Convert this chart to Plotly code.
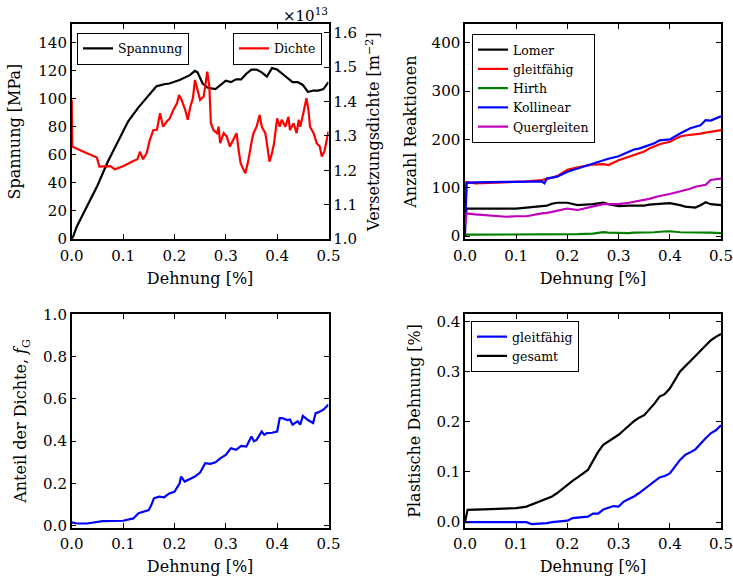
import plotly.graph_objects as go

# ---------------- data ----------------
# Top-left: stress (MPa) and dislocation density (x1e13 m^-2) vs strain (%)
stress_x = [0.0, 0.003, 0.01, 0.03, 0.05, 0.07, 0.09, 0.11, 0.13, 0.15, 0.165, 0.18, 0.19, 0.21,
            0.22, 0.23, 0.24, 0.245, 0.255, 0.265, 0.28, 0.29, 0.30, 0.31, 0.32, 0.33, 0.34, 0.35,
            0.36, 0.37, 0.38, 0.39, 0.40, 0.41, 0.42, 0.43, 0.44, 0.45, 0.46, 0.47, 0.48, 0.49,
            0.50]
stress_y = [0, 2, 9, 23, 38, 55, 70, 84, 94, 103, 109, 110.5, 111, 113.5,
            115, 117, 120, 119, 111, 108, 107, 110, 113, 112, 114, 114, 118, 121,
            121, 119, 116, 122, 121, 118, 115, 112, 112, 110, 105, 106, 106, 107,
            112]

dens_x = [0.0, 0.001, 0.023, 0.036, 0.049, 0.054, 0.075, 0.084, 0.100, 0.117, 0.128,
          0.133, 0.139, 0.146, 0.152, 0.159, 0.166, 0.172, 0.178, 0.185, 0.191, 0.198,
          0.205, 0.209, 0.214, 0.221, 0.226, 0.231, 0.236, 0.240, 0.245, 0.250, 0.257, 0.260,
          0.264, 0.268, 0.271, 0.276, 0.283, 0.286, 0.289, 0.296, 0.302, 0.308, 0.315, 0.321,
          0.325, 0.329, 0.338, 0.344, 0.351, 0.354, 0.360, 0.366, 0.370, 0.377, 0.380, 0.385,
          0.390, 0.394, 0.400, 0.405, 0.409, 0.416, 0.422, 0.425, 0.432, 0.438, 0.442, 0.445,
          0.451, 0.457, 0.461, 0.464, 0.471, 0.477, 0.483, 0.487, 0.492, 0.496, 0.500]
dens_y = [1.405, 1.269, 1.254, 1.245, 1.237, 1.211, 1.212, 1.203, 1.212, 1.225, 1.232,
          1.254, 1.232, 1.250, 1.288, 1.317, 1.318, 1.366, 1.327, 1.342, 1.351, 1.376,
          1.395, 1.419, 1.405, 1.376, 1.347, 1.385, 1.410, 1.463, 1.434, 1.405, 1.415, 1.454,
          1.487, 1.444, 1.337, 1.317, 1.308, 1.327, 1.279, 1.308, 1.298, 1.269, 1.288, 1.308,
          1.259, 1.220, 1.191, 1.230, 1.288, 1.308, 1.327, 1.361, 1.327, 1.308, 1.279, 1.225,
          1.250, 1.279, 1.351, 1.327, 1.347, 1.327, 1.356, 1.317, 1.337, 1.308, 1.347, 1.327,
          1.366, 1.410, 1.376, 1.327, 1.308, 1.279, 1.269, 1.240, 1.255, 1.288, 1.313]

# Top-right: number of reactions
react_x = [0.0, 0.003, 0.02, 0.05, 0.08, 0.10, 0.12, 0.15, 0.155, 0.16, 0.17, 0.18, 0.20, 0.22,
           0.25, 0.27, 0.28, 0.30, 0.32, 0.33, 0.34, 0.35, 0.36, 0.37, 0.38, 0.40, 0.42, 0.43,
           0.44, 0.45, 0.46, 0.47, 0.48, 0.50]
lomer = [30, 57, 57, 57, 57, 57, 59, 61, 62, 63, 67, 69, 69, 64, 66, 69, 66, 62, 63, 63, 64, 63, 65,
         66, 67, 68, 64, 61, 60, 59, 64, 70, 66, 64]
gleit = [20, 112, 109, 110, 111, 112, 113, 116, 117, 118, 121, 124, 137, 142, 148, 149, 147, 157,
         164, 167, 170, 175, 181, 185, 190, 195, 206, 208, 209, 211, 212, 214, 216, 219]
hirth = [1, 3, 3, 3, 3, 3, 3, 3, 3, 3, 3, 3, 4, 4, 5, 8, 7, 6, 6, 7, 7, 7, 8, 8, 9, 10, 8, 8, 8, 8,
         8, 8, 7, 6]
kolli = [0, 110, 111, 112, 112, 112, 113, 113, 109, 119, 121, 123, 133, 140, 150, 157, 160, 165,
         174, 179, 181, 185, 188, 192, 198, 200, 212, 218, 223, 226, 229, 240, 239, 248]
quer = [23, 47, 45, 43, 40, 41, 41, 47, 47, 48, 50, 52, 57, 54, 62, 66, 66, 66, 69, 71, 72, 74, 77,
        80, 83, 87, 92, 95, 98, 102, 104, 106, 116, 119]

# Bottom-left: fraction of density f_G
frac_x = [0.0, 0.01, 0.03, 0.05, 0.06, 0.10, 0.105, 0.12, 0.13, 0.15, 0.155, 0.16, 0.17, 0.18,
          0.19, 0.20, 0.21, 0.213, 0.22, 0.23, 0.24, 0.25, 0.26, 0.27, 0.28, 0.29, 0.30, 0.31,
          0.32, 0.33, 0.34, 0.35, 0.355, 0.36, 0.37, 0.375, 0.38, 0.39, 0.40, 0.405, 0.41, 0.42,
          0.425, 0.43, 0.44, 0.445, 0.45, 0.46, 0.47, 0.475, 0.48, 0.49, 0.50]
frac_y = [0.016, 0.011, 0.011, 0.019, 0.022, 0.024, 0.027, 0.035, 0.060, 0.074, 0.098, 0.130,
          0.138, 0.135, 0.153, 0.161, 0.200, 0.233, 0.209, 0.220, 0.233, 0.252, 0.296, 0.293,
          0.300, 0.320, 0.335, 0.367, 0.359, 0.378, 0.375, 0.422, 0.400, 0.406, 0.446, 0.430,
          0.438, 0.440, 0.446, 0.509, 0.509, 0.500, 0.503, 0.478, 0.494, 0.478, 0.520, 0.500,
          0.486, 0.533, 0.536, 0.549, 0.573]

# Bottom-right: plastic strain (%)
plast_x = [0.0, 0.005, 0.05, 0.10, 0.12, 0.13, 0.15, 0.16, 0.17, 0.18, 0.20, 0.21, 0.22, 0.23,
           0.24, 0.25, 0.26, 0.27, 0.28, 0.29, 0.30, 0.31, 0.32, 0.33, 0.34, 0.35, 0.37, 0.38,
           0.39, 0.40, 0.42, 0.43, 0.44, 0.45, 0.47, 0.48, 0.49, 0.50]
plast_gleit = [0.0, 0.0, 0.0, 0.0, 0.0, -0.004, -0.003, -0.002, 0.0, 0.0007, 0.003, 0.008, 0.009,
               0.009, 0.011, 0.017, 0.017, 0.025, 0.028, 0.032, 0.031, 0.041, 0.046, 0.051, 0.058,
               0.066, 0.081, 0.089, 0.092, 0.097, 0.124, 0.134, 0.139, 0.145, 0.167, 0.177,
               0.183, 0.193]
plast_ges = [0.0, 0.0245, 0.026, 0.028, 0.031, 0.035, 0.043, 0.047, 0.051, 0.058, 0.075, 0.082,
             0.089, 0.096, 0.104, 0.122, 0.140, 0.154, 0.161, 0.167, 0.174, 0.183, 0.193, 0.201,
             0.208, 0.213, 0.236, 0.250, 0.255, 0.266, 0.300, 0.310, 0.319, 0.331, 0.352, 0.362,
             0.369, 0.375]

xticks = [0.0, 0.1, 0.2, 0.3, 0.4, 0.5]

# ---------------- figure ----------------
W, H = 733, 581
FONT = "DejaVu Serif"
fig = go.Figure()

LW = 2.2
fig.add_trace(go.Scatter(x=stress_x, y=stress_y, mode="lines", name="Spannung",
                         line=dict(color="black", width=LW), xaxis="x", yaxis="y", legend="legend"))
fig.add_trace(go.Scatter(x=dens_x, y=dens_y, mode="lines", name="Dichte",
                         line=dict(color="#ff0000", width=LW), xaxis="x", yaxis="y5", legend="legend2"))

for name, data, col in [("Lomer", lomer, "black"), ("gleitfähig", gleit, "#ff0000"),
                        ("Hirth", hirth, "#008000"), ("Kollinear", kolli, "#0000ff"),
                        ("Quergleiten", quer, "#bf00bf")]:
    fig.add_trace(go.Scatter(x=react_x, y=data, mode="lines", name=name,
                             line=dict(color=col, width=LW), xaxis="x2", yaxis="y2", legend="legend3"))

fig.add_trace(go.Scatter(x=frac_x, y=frac_y, mode="lines", showlegend=False,
                         line=dict(color="#0000ff", width=LW), xaxis="x3", yaxis="y3"))

fig.add_trace(go.Scatter(x=plast_x, y=plast_gleit, mode="lines", name="gleitfähig",
                         line=dict(color="#0000ff", width=LW), xaxis="x4", yaxis="y4", legend="legend4"))
fig.add_trace(go.Scatter(x=plast_x, y=plast_ges, mode="lines", name="gesamt",
                         line=dict(color="black", width=LW), xaxis="x4", yaxis="y4", legend="legend4"))

# domains (paper coords from pixel positions)
xdL = [71.7 / W, 328.5 / W]
xdR = [465.0 / W, 721.0 / W]
ydT = [1 - 239.0 / H, 1 - 24.3 / H]
ydB = [1 - 527.5 / H, 1 - 314.3 / H]

tickfont = dict(family=FONT, size=15, color="black")
titlefont = dict(family=FONT, size=16, color="black")


def xax(domain, anchor):
    return dict(domain=domain, anchor=anchor, range=[0, 0.5], tickvals=xticks, tickformat=".1f",
                ticks="inside", ticklen=5, tickwidth=1, tickcolor="black", showline=True,
                linecolor="black", linewidth=1.5, mirror="ticks", showgrid=False, zeroline=False,
                tickfont=tickfont, automargin=False, ticklabelstandoff=2,
                title=dict(text="Dehnung [%]", font=titlefont, standoff=9))


def yax(domain, anchor, rng, dtick, fmt, title, standoff, mirror="ticks"):
    return dict(domain=domain, anchor=anchor, range=rng, dtick=dtick, tick0=0, tickformat=fmt,
                ticks="inside", ticklen=5, tickwidth=1, tickcolor="black", showline=True,
                linecolor="black", linewidth=1.5, mirror=mirror, showgrid=False, zeroline=False,
                tickfont=tickfont, automargin=False,
                title=dict(text=title, font=titlefont, standoff=standoff))


legend_common = dict(bgcolor="white", bordercolor="black", borderwidth=1,
                     font=dict(family=FONT, size=12.5, color="black"),
                     xanchor="left", yanchor="top", itemwidth=30, tracegroupgap=0)

fig.update_layout(
    width=W, height=H, margin=dict(l=0, r=0, t=0, b=0),
    paper_bgcolor="white", plot_bgcolor="white",
    font=dict(family=FONT, color="black"),
    xaxis=xax(xdL, "y"),
    yaxis=yax(ydT, "x", [0, 153.3], 20, "d", "Spannung [MPa]", 14, mirror=True),
    yaxis5=dict(overlaying="y", side="right", anchor="x", range=[1.0, 1.625], dtick=0.1, tick0=1.0,
                tickformat=".1f", ticks="inside", ticklen=5, tickwidth=1, tickcolor="black",
                showline=True, linecolor="black", linewidth=1.5, showgrid=False, zeroline=False,
                tickfont=tickfont, automargin=False,
                title=dict(text="Versetzungsdichte [m<sup>−2</sup>]", font=titlefont, standoff=12)),
    xaxis2=xax(xdR, "y2"),
    yaxis2=yax(ydT, "x2", [-6, 438], 100, "d", "Anzahl Reaktionen", 11),
    xaxis3=xax(xdL, "y3"),
    yaxis3=yax(ydB, "x3", [-0.008, 1.0], 0.2, ".1f", "Anteil der Dichte, <i>f</i><sub>G</sub>", 12),
    xaxis4=xax(xdR, "y4"),
    yaxis4=yax(ydB, "x4", [-0.0107, 0.414], 0.1, ".1f", "Plastische Dehnung [%]", 12),
    legend=dict(legend_common, x=77 / W, y=1 - 32.7 / H),
    legend2=dict(legend_common, x=322 / W, y=1 - 32.7 / H, xanchor="right"),
    legend3=dict(legend_common, x=472 / W, y=1 - 34 / H),
    legend4=dict(legend_common, x=471 / W, y=1 - 321 / H),
    annotations=[dict(text="×10<sup>13</sup>", x=330 / W, y=1 - 3 / H, xref="paper", yref="paper",
                      xanchor="right", yanchor="top", showarrow=False,
                      font=dict(family=FONT, size=15, color="black"))],
)

fig.write_html("out.html")
